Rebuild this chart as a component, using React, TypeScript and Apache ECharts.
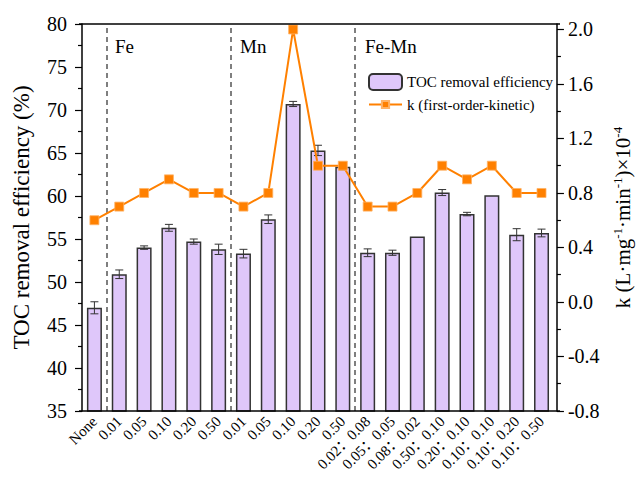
import React, { useEffect, useRef } from "react";
import * as echarts from "echarts";

// Catalyst dosages on the x axis
const categories = [
  "None",
  "0.01", "0.05", "0.10", "0.20", "0.50",
  "0.01", "0.05", "0.10", "0.20", "0.50",
  "0.02：0.08", "0.05：0.05", "0.08：0.02", "0.50：0.10",
  "0.20：0.10", "0.10：0.10", "0.10：0.20", "0.10：0.50",
];

// TOC removal efficiency (%) and its standard deviation
const tocRemoval = [
  47.0,
  50.9, 54.0, 56.3, 54.7, 53.8,
  53.3, 57.3, 70.7, 65.3, 63.4,
  53.4, 53.4, 55.3, 60.4, 57.9, 60.1, 55.5, 55.7,
];
const tocError = [
  0.7,
  0.5, 0.2, 0.4, 0.3, 0.6,
  0.5, 0.5, 0.3, 0.6, 0.35,
  0.45, 0.3, 0, 0.35, 0.2, 0, 0.7, 0.45,
];

// First-order kinetic constant k (×10^-4 L·mg^-1·min^-1)
const kValues = [
  0.6,
  0.7, 0.8, 0.9, 0.8, 0.8,
  0.7, 0.8, 2.0, 1.0, 1.0,
  0.7, 0.7, 0.8, 1.0, 0.9, 1.0, 0.8, 0.8,
];

// Group dividers (category boundaries) and group titles
const groupBoundaries = [1, 6, 11];
const groupTitles = ["Fe", "Mn", "Fe-Mn"];

// Axis tick values
const kMajorTicks = [-0.8, -0.4, 0.0, 0.4, 0.8, 1.2, 1.6, 2.0];
const kMinorTicks = [-0.6, -0.2, 0.2, 0.6, 1.0, 1.4, 1.8];

const SERIF = "'Liberation Serif', 'Times New Roman', serif";
const SERIF_CJK = "'Liberation Serif', 'Noto Sans CJK SC', serif";
const W = 641;
const H = 480;
const GRID = { left: 82, right: 84, top: 24, bottom: 69 };
const AXIS_OFFSET = 3;

export default function App() {
  const ref = useRef<HTMLDivElement>(null);

  useEffect(() => {
    document.body.style.margin = "0";
    if (!ref.current) return;
    const chart = echarts.init(ref.current, undefined, { renderer: "svg" });

    const band = (W - GRID.left - GRID.right) / categories.length;
    const frameLeft = GRID.left - AXIS_OFFSET;
    const frameRight = W - GRID.right + AXIS_OFFSET;
    const frameBottom = H - GRID.bottom;

    const errData = tocRemoval.map((v, i) => [i, v + tocError[i], v - tocError[i], tocError[i]]);

    const legendText = { fontFamily: SERIF, fontSize: 15, color: "#000" };

    const option: any = {
      animation: false,
      backgroundColor: "#ffffff",
      textStyle: { fontFamily: SERIF },
      grid: { ...GRID, containLabel: false },
      legend: [
        {
          data: ["TOC removal efficiency"],
          left: 368,
          top: 73,
          padding: 0,
          itemWidth: 33,
          itemHeight: 16,
          textStyle: legendText,
        },
        {
          data: ["k (first-order-kinetic)"],
          left: 368,
          top: 97,
          padding: 0,
          itemWidth: 33,
          itemHeight: 9,
          textStyle: legendText,
        },
      ],
      xAxis: [
        {
          type: "category",
          data: categories,
          axisLine: { show: false },
          axisTick: { show: false },
          axisLabel: {
            interval: 0,
            rotate: 45,
            fontSize: 15,
            fontFamily: SERIF_CJK,
            color: "#000",
            margin: 8,
          },
          splitLine: { show: false },
        },
        {
          type: "value",
          min: 0,
          max: categories.length,
          show: false,
        },
      ],
      yAxis: [
        {
          type: "value",
          position: "left",
          offset: AXIS_OFFSET,
          min: 35,
          max: 80,
          interval: 5,
          name: "TOC removal efficiency (%)",
          nameLocation: "middle",
          nameRotate: 90,
          nameGap: 46,
          nameTextStyle: { fontFamily: SERIF, fontSize: 23, color: "#000" },
          axisLine: { show: true, lineStyle: { color: "#000", width: 1.5 } },
          axisTick: { show: true, length: 7, lineStyle: { color: "#000", width: 1.2 } },
          minorTick: { show: true, splitNumber: 2, length: 4, lineStyle: { color: "#000", width: 1.2 } },
          axisLabel: { fontSize: 20, fontFamily: SERIF, color: "#000", margin: 12 },
          splitLine: { show: false },
        },
        {
          type: "value",
          position: "right",
          offset: AXIS_OFFSET,
          min: -0.8,
          max: 2.04,
          interval: 0.4,
          name: "{a|k (L·mg}{s|-1}{a|·min}{s|-1}{a|)×10}{s|-4}",
          nameLocation: "middle",
          nameRotate: 90,
          nameGap: 50,
          nameTextStyle: {
            color: "#000",
            fontFamily: SERIF,
            rich: {
              a: { fontFamily: SERIF, fontSize: 21, color: "#000", lineHeight: 24 },
              s: { fontFamily: SERIF, fontSize: 13, color: "#000", verticalAlign: "top", lineHeight: 24 },
            },
          },
          axisLine: { show: true, lineStyle: { color: "#000", width: 1.5 } },
          axisTick: {
            show: true,
            length: 7,
            customValues: kMajorTicks,
            lineStyle: { color: "#000", width: 1.2 },
          },
          axisLabel: {
            customValues: kMajorTicks,
            formatter: (v: number) => v.toFixed(1),
            fontSize: 20,
            fontFamily: SERIF,
            color: "#000",
            margin: 11,
          },
          splitLine: { show: false },
        },
        {
          // minor ticks of the k axis
          type: "value",
          position: "right",
          offset: AXIS_OFFSET,
          min: -0.8,
          max: 2.04,
          interval: 0.4,
          axisLine: { show: false },
          axisTick: {
            show: true,
            length: 4,
            customValues: kMinorTicks,
            lineStyle: { color: "#000", width: 1.2 },
          },
          axisLabel: { show: false },
          splitLine: { show: false },
        },
      ],
      graphic: [
        {
          type: "line",
          shape: { x1: frameLeft, y1: GRID.top, x2: frameRight, y2: GRID.top },
          style: { stroke: "#000", lineWidth: 1.5 },
          z: 10,
        },
        {
          type: "line",
          shape: { x1: frameLeft, y1: frameBottom, x2: frameRight, y2: frameBottom },
          style: { stroke: "#000", lineWidth: 1.5 },
          z: 10,
        },
        ...groupTitles.map((t, i) => ({
          type: "text",
          left: GRID.left + groupBoundaries[i] * band + 8,
          top: 37,
          style: { text: t, fontFamily: SERIF, fontSize: 19, fill: "#000" },
          z: 10,
        })),
      ],
      series: [
        {
          type: "bar",
          name: "TOC removal efficiency",
          data: tocRemoval,
          barWidth: 15,
          itemStyle: { color: "#DFC7FA", borderColor: "#333", borderWidth: 1.5 },
          z: 2,
        },
        {
          type: "custom",
          name: "error",
          data: errData,
          z: 3,
          silent: true,
          renderItem: (_params: any, api: any) => {
            if (api.value(3) <= 0) return null;
            const i = api.value(0);
            const hi = api.coord([i, api.value(1)]);
            const lo = api.coord([i, api.value(2)]);
            const half = 4;
            const style = { stroke: "#333", lineWidth: 1 };
            return {
              type: "group",
              children: [
                { type: "line", shape: { x1: hi[0], y1: hi[1], x2: lo[0], y2: lo[1] }, style },
                { type: "line", shape: { x1: hi[0] - half, y1: hi[1], x2: hi[0] + half, y2: hi[1] }, style },
                { type: "line", shape: { x1: lo[0] - half, y1: lo[1], x2: lo[0] + half, y2: lo[1] }, style },
              ],
            };
          },
        },
        {
          type: "scatter",
          name: "dividers",
          xAxisIndex: 1,
          yAxisIndex: 0,
          data: [],
          silent: true,
          markLine: {
            silent: true,
            symbol: "none",
            label: { show: false },
            lineStyle: { color: "#555", type: [5, 4], width: 1.5 },
            data: groupBoundaries.map((b) => ({ xAxis: b })),
          },
        },
        {
          type: "line",
          name: "k (first-order-kinetic)",
          yAxisIndex: 1,
          data: kValues,
          symbol: "rect",
          symbolSize: 9,
          lineStyle: { color: "#FF8000", width: 2 },
          itemStyle: { color: "#FF8000", borderColor: "#FFB266", borderWidth: 0.8 },
          z: 5,
        },
      ],
    };

    chart.setOption(option);
    return () => chart.dispose();
  }, []);

  return <div ref={ref} style={{ width: W, height: H }} />;
}
